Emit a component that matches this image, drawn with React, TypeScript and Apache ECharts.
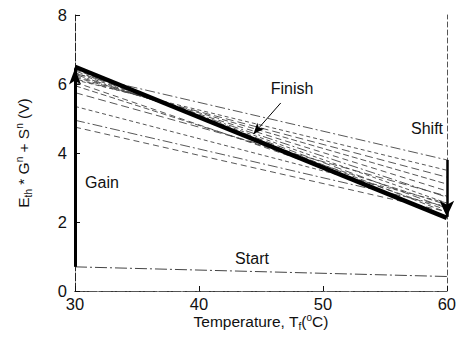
import React, { useEffect, useRef } from "react";
import * as echarts from "echarts";

const xTicks = [30, 40, 50, 60];
const yTicks = [0, 2, 4, 6, 8];
// each curve: [value at 30 °C, value at 60 °C]
const finishCurve: [number, number] = [6.5, 2.12];
const startCurve: [number, number] = [0.7, 0.42];
const fanCurves: [number, number][] = [
  [6.42, 2.28],
  [6.38, 2.4],
  [6.33, 2.55],
  [6.28, 2.72],
  [6.24, 2.9],
  [6.2, 3.1],
  [6.15, 3.3],
  [6.12, 3.5],
  [6.3, 3.8],
  [6.05, 2.35],
  [5.95, 2.5],
  [5.75, 2.75],
  [5.35, 2.55],
  [4.95, 2.45],
  [4.75, 2.3],
];
const gainArrow: [number, number][] = [[30, 0.7], [30, 6.45]];
const shiftArrow: [number, number][] = [[60, 3.8], [60, 2.15]];
const finishPointer: [number, number][] = [[46.6, 5.45], [44.4, 4.55]];

const FONT = "'Liberation Sans', Arial, Helvetica, sans-serif";

export default function App() {
  const ref = useRef<HTMLDivElement>(null);
  useEffect(() => {
    if (!ref.current) return;
    const chart = echarts.init(ref.current, null, { renderer: "svg" });
    const lineOf = (c: [number, number]) => [
      [30, c[0]],
      [60, c[1]],
    ];
    const dashes = [
      [6, 3],
      [8, 4],
      [4, 3],
      [10, 3, 2, 3],
      [6, 4],
    ];
    const series: any[] = fanCurves.map((c, i) => ({
      type: "line",
      data: lineOf(c),
      symbol: "none",
      silent: true,
      lineStyle: { color: "#444", width: 0.9, type: dashes[i % dashes.length] },
    }));
    series.push({
      type: "line",
      data: lineOf(startCurve),
      symbol: "none",
      silent: true,
      lineStyle: { color: "#444", width: 1, type: [12, 3, 2, 3] },
    });
    series.push({
      type: "line",
      data: lineOf(finishCurve),
      symbol: "none",
      silent: true,
      lineStyle: { color: "#000", width: 4.5 },
      markLine: {
        silent: true,
        animation: false,
        label: { show: false },
        data: [
          [
            { coord: gainArrow[0], symbol: "none", lineStyle: { width: 3, color: "#000", type: "solid" } },
            { coord: gainArrow[1], symbol: "arrow", symbolSize: [9, 16] },
          ],
          [
            { coord: shiftArrow[0], symbol: "none", lineStyle: { width: 2.5, color: "#000", type: "solid" } },
            { coord: shiftArrow[1], symbol: "arrow", symbolSize: [11, 16] },
          ],
          [
            { coord: finishPointer[0], symbol: "none", lineStyle: { width: 1, color: "#000", type: "solid" } },
            { coord: finishPointer[1], symbol: "arrow", symbolSize: [7, 11] },
          ],
        ],
      },
    });

    const tickLabel = { color: "#111", fontSize: 16.5, fontFamily: FONT };
    const nameStyle = {
      color: "#111",
      fontSize: 15.5,
      fontFamily: FONT,
      rich: {
        sub: { fontSize: 10, fontFamily: FONT, color: "#111", padding: [9, 0, 0, 0] },
        sup: { fontSize: 10, fontFamily: FONT, color: "#111", padding: [0, 0, 9, 0] },
      },
    };
    chart.setOption({
      animation: false,
      grid: { left: 75, right: 10, top: 15, bottom: 60 },
      xAxis: [
        {
          type: "value",
          min: xTicks[0],
          max: xTicks[xTicks.length - 1],
          interval: 10,
          axisLine: { lineStyle: { color: "#222", width: 1, type: [10, 2] } },
          axisTick: { inside: true, length: 5, lineStyle: { color: "#111" } },
          splitLine: { show: false },
          axisLabel: { ...tickLabel, margin: 4 },
          name: "Temperature, T{sub|f}({sup|o}C)",
          nameLocation: "middle",
          nameGap: 21,
          nameMoveOverlap: false,
          nameTextStyle: nameStyle,
        },
        {
          type: "value",
          position: "top",
          min: 30,
          max: 60,
          axisLine: { show: true, lineStyle: { color: "#555", width: 1, type: [8, 2, 2, 2] } },
          axisTick: { show: false },
          axisLabel: { show: false },
          splitLine: { show: false },
        },
      ],
      yAxis: [
        {
          type: "value",
          min: yTicks[0],
          max: yTicks[yTicks.length - 1],
          interval: 2,
          axisLine: { show: true, lineStyle: { color: "#222", width: 1, type: [8, 2] } },
          axisTick: { show: true, inside: true, length: 5, lineStyle: { color: "#111" } },
          splitLine: { show: false },
          axisLabel: { ...tickLabel, margin: 8 },
          name: "E{sub|th} * G{sup|n} + S{sup|n} (V)",
          nameLocation: "middle",
          nameGap: 42,
          nameMoveOverlap: false,
          nameTextStyle: nameStyle,
        },
        {
          type: "value",
          position: "right",
          min: 0,
          max: 8,
          axisLine: { show: true, lineStyle: { color: "#555", width: 1, type: [5, 3] } },
          axisTick: { show: false },
          axisLabel: { show: false },
          splitLine: { show: false },
        },
      ],
      series,
      graphic: [
        { type: "text", x: 292, y: 88, style: { text: "Finish", fill: "#111", font: `16px ${FONT}`, align: "center", verticalAlign: "middle" } },
        { type: "text", x: 427, y: 128, style: { text: "Shift", fill: "#111", font: `16px ${FONT}`, align: "center", verticalAlign: "middle" } },
        { type: "text", x: 102, y: 182, style: { text: "Gain", fill: "#111", font: `16px ${FONT}`, align: "center", verticalAlign: "middle" } },
        { type: "text", x: 252, y: 258, style: { text: "Start", fill: "#111", font: `16px ${FONT}`, align: "center", verticalAlign: "middle" } },
      ],
    });
    return () => chart.dispose();
  }, []);
  return <div ref={ref} style={{ width: 459, height: 351, position: "absolute", left: 0, top: 0, background: "#fff" }} />;
}
